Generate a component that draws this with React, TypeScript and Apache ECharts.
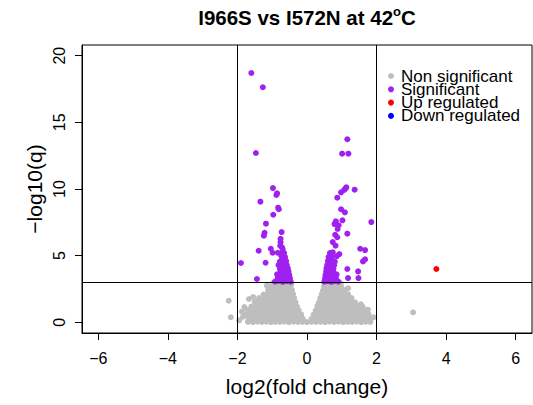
import React, { useEffect, useRef } from "react";
import * as echarts from "echarts";

const FONT = "'Liberation Sans', Arial, Helvetica, sans-serif";

const titleMain = "I966S vs I572N at 42";
const titleSup = "o";
const titleEnd = "C";
const xTitle = "log2(fold change)";
const yTitle = "\u2212log10(q)";
const xTicks = [-6, -4, -2, 0, 2, 4, 6];
const yTicks = [0, 5, 10, 15, 20];
const xLimits = [-6.47, 6.47];
const yLimits = [-0.8, 20.8];
const foldCutoffs = [-2, 2];
const qCutoff = 3;
const legendNames = ["Non significant", "Significant", "Up regulated", "Down regulated"];
const colors = ["#BEBEBE", "#A020F0", "#FF0000", "#0000FF"];

const nonSignificant: number[][] = [
  [-1.70,0.04],[-1.56,0.02],[-1.43,0.06],[-1.30,0.03],[-1.17,0.05],[-1.04,0.02],[-0.91,0.04],[-0.78,0.03],[-0.65,0.06],[-0.52,0.02],[-0.39,0.05],[-0.26,0.03],[-0.13,0.04],[0.00,0.02],[0.13,0.05],[0.26,0.03],[0.39,0.04],[0.52,0.02],[0.65,0.06],[0.78,0.03],[0.91,0.05],[1.04,0.02],[1.17,0.04],[1.30,0.03],[1.43,0.06],[1.56,0.02],[1.69,0.05],[1.82,0.03],
  [-1.68,0.28],[-1.54,0.32],[-1.40,0.30],[-1.27,0.27],[-1.14,0.33],[-1.01,0.29],[-0.88,0.31],[-0.75,0.28],[-0.62,0.34],[-0.49,0.30],[-0.37,0.27],[-0.25,0.32],[-0.12,0.26],[0.13,0.27],[0.26,0.31],[0.38,0.29],[0.50,0.33],[0.63,0.28],[0.76,0.30],[0.89,0.32],[1.02,0.27],[1.15,0.31],[1.28,0.29],[1.41,0.33],[1.55,0.28],[1.70,0.30],[1.83,0.26],
  [-1.74,0.58],[-1.60,0.62],[-1.46,0.60],[-1.32,0.57],[-1.19,0.63],[-1.05,0.59],[-0.92,0.61],[-0.79,0.58],[-0.66,0.64],[-0.53,0.60],[-0.41,0.57],[-0.29,0.62],[-0.17,0.59],[0.19,0.58],[0.31,0.62],[0.43,0.60],[0.56,0.57],[0.69,0.63],[0.82,0.59],[0.95,0.61],[1.08,0.58],[1.21,0.62],[1.35,0.60],[1.49,0.57],[1.63,0.62],[1.77,0.59],
  [-1.70,0.92],[-1.55,0.88],[-1.42,0.91],[-1.28,0.87],[-1.14,0.93],[-1.00,0.89],[-0.87,0.92],[-0.74,0.88],[-0.61,0.91],[-0.48,0.87],[-0.36,0.93],[-0.24,0.90],[0.25,0.88],[0.37,0.92],[0.50,0.89],[0.63,0.91],[0.76,0.87],[0.89,0.93],[1.02,0.90],[1.15,0.88],[1.28,0.92],[1.42,0.89],[1.56,0.91],[1.70,0.86],
  [-1.60,1.18],[-1.45,1.22],[-1.32,1.19],[-1.18,1.23],[-1.05,1.17],[-0.92,1.21],[-0.79,1.18],[-0.66,1.22],[-0.53,1.19],[-0.41,1.23],[-0.29,1.18],[0.30,1.21],[0.42,1.18],[0.55,1.22],[0.68,1.19],[0.81,1.23],[0.94,1.17],[1.07,1.21],[1.20,1.18],[1.34,1.22],[1.48,1.19],[1.60,1.16],
  [-1.50,1.52],[-1.36,1.48],[-1.22,1.51],[-1.09,1.47],[-0.96,1.53],[-0.83,1.49],[-0.70,1.52],[-0.57,1.48],[-0.45,1.51],[-0.33,1.49],[0.34,1.48],[0.46,1.52],[0.59,1.49],[0.72,1.53],[0.85,1.47],[0.98,1.51],[1.11,1.48],[1.25,1.52],[1.38,1.49],
  [-1.38,1.82],[-1.25,1.78],[-1.12,1.81],[-0.99,1.77],[-0.86,1.83],[-0.73,1.79],[-0.61,1.82],[-0.49,1.78],[-0.37,1.81],[0.38,1.79],[0.50,1.82],[0.63,1.78],[0.76,1.83],[0.89,1.79],[1.02,1.81],[1.15,1.77],[1.28,1.82],
  [-1.25,2.08],[-1.12,2.12],[-0.99,2.09],[-0.86,2.13],[-0.73,2.07],[-0.61,2.11],[-0.50,2.08],[-0.40,2.12],[0.42,2.09],[0.54,2.13],[0.66,2.08],[0.79,2.11],[0.92,2.07],[1.05,2.12],[1.18,2.09],
  [-1.12,2.42],[-0.99,2.38],[-0.87,2.41],[-0.75,2.37],[-0.63,2.43],[-0.52,2.39],[-0.43,2.42],[0.46,2.38],[0.58,2.42],[0.70,2.39],[0.82,2.43],[0.95,2.37],[1.08,2.41],
  [-1.05,2.68],[-0.92,2.72],[-0.80,2.69],[-0.68,2.73],[-0.57,2.67],[-0.47,2.71],[0.49,2.69],[0.61,2.73],[0.73,2.68],[0.85,2.72],[0.98,2.67],
  [-0.98,2.94],[-0.86,2.91],[-0.74,2.95],[-0.63,2.92],[-0.52,2.96],[-0.45,2.90],[0.51,2.93],[0.62,2.96],[0.74,2.91],[0.86,2.95],[0.97,2.92],
  [-2.25,1.62],[-2.19,0.38],[3.05,0.75],[-1.67,1.75],[-1.87,0.80],[-1.84,0.42],[-1.41,1.67],[-1.27,1.17],[-1.07,2.42],[-0.79,2.85],[1.04,2.42],[1.23,1.55],[1.32,1.05],[1.80,0.17],[-1.95,0.15],[1.92,0.38],[1.75,0.95],[-1.80,1.15],[1.18,2.55],[-1.15,2.75],[1.55,1.35],[-1.55,1.90]
];

const significant: number[][] = [
  [-1.60,18.70],[-1.27,17.63],[-1.47,12.70],[-0.98,10.07],[-0.86,9.67],[-0.88,9.55],[-1.34,9.05],[-0.83,8.60],[-0.81,8.48],[-0.97,8.07],[-1.18,7.40],[-0.73,6.77],[-1.22,6.72],[-1.24,6.50],[-0.76,6.27],[-1.39,5.37],[-1.04,5.52],[-0.99,5.22],[-0.84,5.22],[-0.72,5.63],[-0.69,5.27],[-0.74,5.00],[-1.90,4.45],[-1.19,4.47],[-0.82,4.30],[-1.44,3.25],
  [-0.47,3.05],[-0.58,3.08],[-0.70,3.04],[-0.82,3.10],[-0.92,3.06],
  [-0.49,3.30],[-0.60,3.33],[-0.72,3.28],[-0.84,3.35],
  [-0.51,3.55],[-0.62,3.58],[-0.74,3.52],[-0.86,3.60],
  [-0.53,3.80],[-0.64,3.83],[-0.76,3.78],
  [-0.55,4.05],[-0.66,4.08],[-0.78,4.02],
  [-0.58,4.30],[-0.68,4.33],
  [-0.60,4.60],[-0.70,4.62],[-0.78,4.55],
  [-0.63,4.90],[-0.72,4.88],
  [-0.66,5.20],[-0.74,5.15],
  [-0.70,5.50],[-0.77,5.75],[-0.76,6.00],
  [1.16,13.73],[1.01,12.65],[1.19,12.65],[1.11,10.05],[1.07,9.93],[0.98,9.75],[1.13,10.12],[0.87,9.35],[1.37,9.95],[0.98,8.48],[1.09,8.25],[1.02,7.65],[0.83,7.58],[0.79,7.37],[0.91,7.28],[0.88,7.00],[1.85,7.52],[1.16,6.65],[0.81,6.57],[0.87,6.38],[0.74,6.02],[0.82,5.75],[1.53,5.52],[1.67,5.42],[0.93,5.12],[0.86,4.97],[0.68,5.17],[0.70,4.92],[1.67,4.72],[1.61,4.57],[1.16,4.00],[1.47,3.82],[1.18,3.32],[1.48,3.32],
  [0.50,3.05],[0.60,3.08],[0.70,3.04],[0.80,3.10],[0.90,3.06],
  [0.52,3.30],[0.62,3.33],[0.72,3.28],[0.83,3.35],
  [0.53,3.55],[0.63,3.58],[0.73,3.52],[0.85,3.60],
  [0.55,3.80],[0.65,3.83],[0.75,3.78],
  [0.56,4.05],[0.66,4.08],[0.76,4.02],
  [0.58,4.30],[0.68,4.33],[0.78,4.28],
  [0.60,4.60],[0.70,4.62],[0.80,4.55],
  [0.62,4.90],[0.72,4.88],
  [0.66,5.20],[0.74,5.25]
];

const upRegulated: number[][] = [[3.72, 4.0]];
const downRegulated: number[][] = [];

const seriesData = [nonSignificant, significant, upRegulated, downRegulated];

export default function App() {
  const ref = useRef<HTMLDivElement>(null);
  useEffect(() => {
    if (!ref.current) return;
    const chart = echarts.init(ref.current, undefined, { renderer: "svg" });
    const series: any[] = seriesData.map((d, i) => ({
      name: legendNames[i],
      type: "scatter",
      data: d,
      symbol: "circle",
      symbolSize: 6,
      itemStyle: { color: colors[i], opacity: 1 },
      emphasis: { disabled: true },
      silent: true,
      z: 2 + i,
    }));
    series.push({
      name: "cutoffs",
      type: "scatter",
      data: [],
      silent: true,
      z: 10,
      markLine: {
        silent: true,
        symbol: ["none", "none"],
        label: { show: false },
        emphasis: { disabled: true },
        lineStyle: { color: "#000", width: 1, type: "solid" },
        data: [
          { xAxis: foldCutoffs[0] },
          { xAxis: foldCutoffs[1] },
          { yAxis: qCutoff },
        ],
      },
    });
    chart.setOption({
      animation: false,
      textStyle: { fontFamily: FONT },
      grid: {
        left: 82,
        top: 45,
        width: 450,
        height: 288,
        show: true,
        borderColor: "#000",
        borderWidth: 1,
        backgroundColor: "transparent",
      },
      xAxis: {
        type: "value",
        min: xLimits[0],
        max: xLimits[1],
        splitLine: { show: false },
        axisLine: { show: true, onZero: false, lineStyle: { color: "#000", width: 1 } },
        axisTick: { show: true, length: 7, lineStyle: { color: "#000", width: 1 }, customValues: xTicks },
        axisLabel: {
          customValues: xTicks,
          formatter: (v: number) => String(v).replace("-", "\u2212"),
          color: "#000",
          fontSize: 16,
          fontFamily: FONT,
          margin: 17,
        },
      },
      yAxis: {
        type: "value",
        min: yLimits[0],
        max: yLimits[1],
        splitLine: { show: false },
        axisLine: { show: true, onZero: false, lineStyle: { color: "#000", width: 1 } },
        axisTick: { show: true, length: 7, lineStyle: { color: "#000", width: 1 }, customValues: yTicks },
        axisLabel: {
          customValues: yTicks,
          formatter: (v: number) => String(v),
          rotate: 90,
          color: "#000",
          fontSize: 16,
          fontFamily: FONT,
          margin: 15,
        },
      },
      legend: {
        orient: "vertical",
        left: 388,
        top: 67.5,
        padding: 0,
        itemWidth: 10,
        itemHeight: 6,
        itemGap: -3.7,
        icon: "circle",
        selectedMode: false,
        data: legendNames,
        textStyle: { fontSize: 17, color: "#000", fontFamily: FONT, padding: 0 },
      },
      graphic: [
        {
          type: "text",
          x: 307,
          y: 17,
          silent: true,
          style: {
            text: `{t|${titleMain}}{s|${titleSup}}{t|${titleEnd}}`,
            align: "center",
            verticalAlign: "middle",
            rich: {
              t: { fontSize: 20.5, fontWeight: "bold", fontFamily: FONT, fill: "#000", lineHeight: 24 },
              s: { fontSize: 13, fontWeight: "bold", fontFamily: FONT, fill: "#000", lineHeight: 14, verticalAlign: "top" },
            },
          },
        },
        {
          type: "text",
          x: 307,
          y: 386,
          silent: true,
          style: { text: xTitle, fontSize: 21, fontFamily: FONT, fill: "#000", align: "center", verticalAlign: "middle" },
        },
        {
          type: "text",
          x: 34,
          y: 189,
          rotation: Math.PI / 2,
          silent: true,
          style: { text: yTitle, fontSize: 21, fontFamily: FONT, fill: "#000", align: "center", verticalAlign: "middle" },
        },
      ],
      series,
    });
    return () => chart.dispose();
  }, []);
  return (
    <div
      ref={ref}
      style={{ position: "absolute", left: 0, top: 0, width: 533, height: 405, background: "#fff" }}
    />
  );
}
